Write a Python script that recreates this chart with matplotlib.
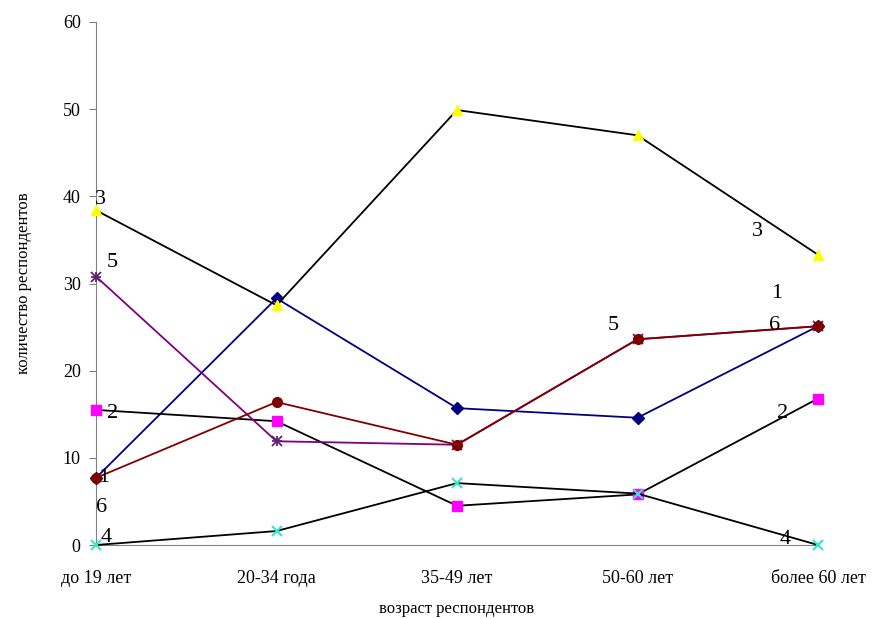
import matplotlib
matplotlib.use("Agg")
import matplotlib.pyplot as plt

categories = ["до 19 лет", "20-34 года", "35-49 лет", "50-60 лет", "более 60 лет"]
s1 = [7.7, 28.3, 15.7, 14.6, 25.1]
s2 = [15.5, 14.2, 4.5, 5.8, 16.8]
s3 = [38.4, 27.5, 49.9, 47.0, 33.3]
s4 = [0.0, 1.6, 7.1, 5.9, 0.0]
s5 = [30.8, 11.9, 11.5, 23.6, 25.1]
s6 = [7.7, 16.4, 11.5, 23.6, 25.1]
yticks = [0, 10, 20, 30, 40, 50, 60]

plt.rcParams['font.family'] = ['Liberation Serif', 'DejaVu Serif']

fig = plt.figure(figsize=(8.72, 6.19), dpi=100)
ax = fig.add_axes([96/872, 1-545/619, (818-96)/872, (545-22)/619])
x = list(range(len(categories)))

ax.plot(x, s1, color='#000080', lw=1.3, marker='D', ms=6, mfc='#000080', mec='#000080', clip_on=False, zorder=3)
ax.plot(x, s2, color='black', lw=1.3, marker='s', ms=7, mfc='#FF00FF', mec='#FF00FF', clip_on=False, zorder=3)
ax.plot(x, s3, color='black', lw=1.3, marker='^', ms=7, mfc='#FFFF00', mec='#FFFF00', clip_on=False, zorder=3)
ax.plot(x, s4, color='black', lw=1.3, marker='x', ms=7, mew=1.5, mfc='#00FFCC', mec='#33E8C8', clip_on=False, zorder=3)
ax.plot(x, s5, color='#800080', lw=1.3, marker='x', ms=7, mew=1.3, mec='#602070', clip_on=False, zorder=3)
ax.plot(x, s5, color='none', marker='+', ms=7, mew=1.3, mec='#602070', clip_on=False, zorder=3)
ax.plot(x, s6, color='#800000', lw=1.3, marker='o', ms=7, mfc='#800000', mec='#800000', clip_on=False, zorder=4)

labels = [
    ("3", 100, 200), ("5", 112, 262), ("2", 113, 413), ("1", 104, 478),
    ("6", 102, 507), ("4", 106, 538),
    ("3", 757, 232), ("1", 777, 293), ("6", 775, 325), ("5", 613, 325),
    ("2", 783, 413), ("4", 785, 540),
]
for t, px, py in labels:
    fig.text(px/872, 1-py/619, t, fontsize=16, ha='center', va='center', color='black')

ax.set_xlim(0, 4)
ax.set_ylim(0, 60)
ax.set_yticks(yticks)
ax.set_xticks(x)
ax.set_xticklabels(categories, fontsize=13)
ax.tick_params(axis='y', labelsize=13, direction='out', length=5, color='#808080', pad=6)
ax.tick_params(axis='x', length=0, pad=18)
for s in ['top', 'right']:
    ax.spines[s].set_visible(False)
ax.spines['left'].set_color('#808080')
ax.spines['bottom'].set_color('#808080')
ax.set_xlabel("возраст респондентов", fontsize=12, labelpad=10)
ax.set_ylabel("количество респондентов", fontsize=12, labelpad=22)

fig.savefig("out.png", dpi=100)
